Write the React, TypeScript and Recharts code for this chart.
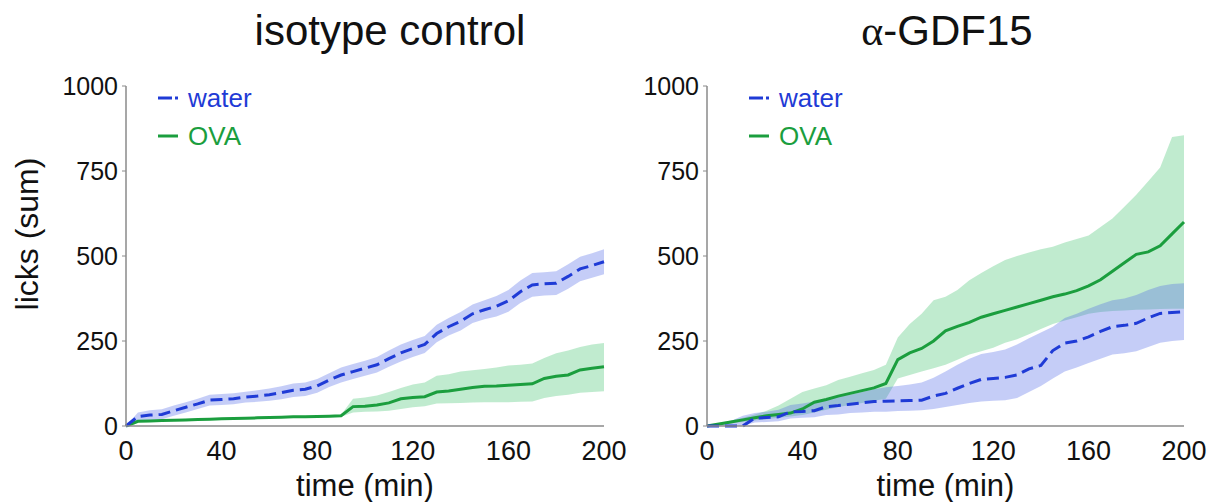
import { ComposedChart, Area, Line, XAxis, YAxis, Label } from 'recharts';

// time grid (min)
const minutes = [
  0, 5, 10, 15, 20, 25, 30, 35, 40, 45, 50, 55, 60, 65, 70, 75, 80, 85, 90, 95,
  100, 105, 110, 115, 120, 125, 130, 135, 140, 145, 150, 155, 160, 165, 170, 175,
  180, 185, 190, 195, 200,
];

// isotype control
const isoWaterMean = [
  0, 28, 32, 34, 45, 55, 65, 76, 78, 80, 85, 88, 92, 98, 105, 108, 118, 135, 150, 160,
  170, 180, 198, 215, 228, 240, 272, 292, 308, 330, 342, 352, 368, 395, 415, 418,
  420, 440, 462, 472, 483,
];
const isoWaterHi = [
  0, 40, 46, 49, 60, 70, 80, 92, 94, 96, 101, 105, 110, 117, 125, 128, 138, 155, 172, 182,
  192, 203, 222, 240, 253, 265, 298, 318, 335, 357, 370, 382, 400, 428, 450, 452,
  455, 476, 498, 508, 520,
];
const isoWaterLo = [
  0, 16, 18, 20, 30, 40, 50, 60, 62, 64, 69, 71, 74, 79, 85, 88, 98, 115, 128, 138,
  148, 157, 174, 190, 203, 215, 246, 266, 281, 303, 314, 322, 336, 362, 380, 384,
  385, 404, 426, 436, 446,
];
const isoOvaMean = [
  0, 14, 15, 16, 17, 18, 19, 20, 21, 22, 23, 24, 25, 26, 27, 27, 28, 29, 30, 57,
  58, 62, 68, 80, 84, 86, 100, 103, 108, 113, 117, 118, 120, 122, 124, 140,
  146, 150, 165, 170, 174,
];
const isoOvaHi = [
  0, 17, 18, 19, 20, 21, 22, 23, 24, 25, 26, 27, 28, 29, 30, 30, 31, 32, 33, 80,
  84, 90, 100, 112, 122, 128, 148, 152, 160, 164, 168, 172, 178, 180, 184, 200,
  214, 222, 232, 240, 244,
];
const isoOvaLo = [
  0, 11, 12, 13, 14, 15, 16, 17, 18, 19, 20, 21, 22, 23, 24, 24, 25, 26, 27, 40,
  42, 43, 45, 50, 55, 58, 66, 67, 68, 69, 70, 70, 70, 71, 72, 82,
  88, 92, 98, 100, 102,
];

// alpha-GDF15
const gdfWaterMean = [
  0, 0, 0, 0, 23, 25, 27, 42, 43, 45, 57, 60, 64, 68, 72, 73, 74, 75, 76, 88,
  96, 111, 125, 137, 140, 143, 150, 168, 178, 222, 244, 250, 262, 278, 292, 296,
  302, 318, 331, 334, 336,
];
const gdfWaterHi = [
  0, 5, 15, 30, 38, 42, 48, 62, 66, 72, 80, 86, 92, 100, 108, 114, 118, 122, 128, 142,
  160, 180, 198, 212, 218, 225, 240, 258, 275, 292, 318, 330, 345, 358, 370, 375,
  385, 400, 412, 418, 420,
];
const gdfWaterLo = [
  0, 0, 0, 0, 10, 12, 14, 22, 24, 26, 32, 34, 38, 40, 42, 42, 44, 45, 46, 50,
  56, 62, 68, 72, 74, 76, 82, 100, 118, 140, 160, 172, 185, 198, 210, 214,
  220, 232, 245, 250, 253,
];
const gdfOvaMean = [
  0, 6, 12, 18, 24, 30, 34, 38, 50, 70, 78, 88, 96, 104, 112, 125, 195, 215, 228, 250,
  280, 293, 305, 320, 330, 340, 350, 360, 370, 380, 388, 398, 412, 430, 455, 480,
  505, 512, 530, 565, 600,
];
const gdfOvaHi = [
  0, 8, 16, 24, 34, 45, 60, 80, 100, 110, 120, 135, 145, 155, 165, 180, 260, 300, 330, 370,
  380, 400, 429, 450, 470, 488, 500, 510, 520, 527, 540, 550, 560, 585, 610, 645,
  680, 720, 760, 850, 855,
];
const gdfOvaLo = [
  0, 4, 8, 12, 16, 20, 24, 28, 32, 40, 48, 56, 62, 68, 74, 80, 140, 150, 160, 170,
  180, 195, 210, 220, 230, 245, 255, 270, 285, 300, 310, 320, 330, 335, 338, 340,
  342, 343, 344, 345, 345,
];

const seriesNames = ['water', 'OVA'];
const xTicks = [0, 40, 80, 120, 160, 200];
const yTicks = [0, 250, 500, 750, 1000];

const BLUE = '#1f3bd6';
const GREEN = '#1b9e3e';
const AXIS = '#8a8a8a';
const FONT = '"Liberation Sans", Arial, sans-serif';

const buildRows = (
  wMean: number[], wLo: number[], wHi: number[],
  oMean: number[], oLo: number[], oHi: number[],
) =>
  minutes.map((t, i) => ({
    t,
    water: wMean[i],
    waterBand: [wLo[i], wHi[i]],
    ova: oMean[i],
    ovaBand: [oLo[i], oHi[i]],
  }));

const isoRows = buildRows(isoWaterMean, isoWaterLo, isoWaterHi, isoOvaMean, isoOvaLo, isoOvaHi);
const gdfRows = buildRows(gdfWaterMean, gdfWaterLo, gdfWaterHi, gdfOvaMean, gdfOvaLo, gdfOvaHi);

const LegendBox = ({ left }: { left: number }) => (
  <div style={{ position: 'absolute', left, top: 79, fontFamily: FONT, fontSize: 26 }}>
    <div style={{ display: 'flex', alignItems: 'center', height: 38, color: BLUE }}>
      <svg width={22} height={10} style={{ marginRight: 8 }}>
        <line x1={0} y1={5} x2={14} y2={5} stroke={BLUE} strokeWidth={3} />
        <line x1={17} y1={5} x2={20} y2={5} stroke={BLUE} strokeWidth={3} />
      </svg>
      {seriesNames[0]}
    </div>
    <div style={{ display: 'flex', alignItems: 'center', height: 38, color: GREEN }}>
      <svg width={22} height={10} style={{ marginRight: 8 }}>
        <line x1={0} y1={5} x2={20} y2={5} stroke={GREEN} strokeWidth={3} />
      </svg>
      {seriesNames[1]}
    </div>
  </div>
);

const yLabel = () => (
  <text
    transform="translate(38,234) rotate(-90)"
    textAnchor="middle"
    fontSize={32}
    fontFamily={FONT}
    fill="#111"
  >
    licks (sum)
  </text>
);

interface PanelProps {
  title: React.ReactNode;
  rows: ReturnType<typeof buildRows>;
  left: number;
  width: number;
  marginLeft: number;
  marginRight: number;
  axisWidth: number;
  showYLabel: boolean;
  titleCenter: number;
  legendLeft: number;
}

const Panel = ({
  title, rows, left, width, marginLeft, marginRight, axisWidth, showYLabel, titleCenter, legendLeft,
}: PanelProps) => (
  <div style={{ position: 'absolute', left, top: 0, width, height: 502 }}>
    <div
      style={{
        position: 'absolute',
        left: titleCenter - 200,
        top: 10,
        width: 400,
        textAlign: 'center',
        fontFamily: FONT,
        fontSize: 42,
        lineHeight: '42px',
        color: '#111',
      }}
    >
      {title}
    </div>
    <ComposedChart
      width={width}
      height={502}
      data={rows}
      margin={{ top: 86, right: marginRight, bottom: 0, left: marginLeft }}
    >
      <XAxis
        dataKey="t"
        type="number"
        domain={[0, 200]}
        ticks={xTicks}
        height={76}
        tickLine={false}
        tickSize={0}
        tickMargin={15}
        axisLine={{ stroke: AXIS, strokeWidth: 1.5 }}
        tick={{ fontSize: 27, fill: '#111', fontFamily: FONT }}
      >
        <Label
          value="time (min)"
          position="insideBottom"
          offset={6}
          style={{ fontSize: 31, fill: '#111', fontFamily: FONT }}
        />
      </XAxis>
      <YAxis
        type="number"
        domain={[0, 1000]}
        ticks={yTicks}
        width={axisWidth}
        tickSize={4}
        tickMargin={4}
        tickLine={{ stroke: AXIS }}
        axisLine={{ stroke: AXIS, strokeWidth: 1.5 }}
        tick={{ fontSize: 25, fill: '#111', fontFamily: FONT }}
      >
        {showYLabel && <Label content={yLabel} />}
      </YAxis>
      <Area
        dataKey="ovaBand"
        type="linear"
        stroke="none"
        fill="#3cc06a"
        fillOpacity={0.32}
        isAnimationActive={false}
      />
      <Area
        dataKey="waterBand"
        type="linear"
        stroke="none"
        fill="#4a62e6"
        fillOpacity={0.32}
        isAnimationActive={false}
      />
      <Line
        dataKey="ova"
        type="linear"
        stroke={GREEN}
        strokeWidth={3}
        dot={false}
        isAnimationActive={false}
      />
      <Line
        dataKey="water"
        type="linear"
        stroke={BLUE}
        strokeWidth={3}
        strokeDasharray="12 6"
        dot={false}
        isAnimationActive={false}
      />
    </ComposedChart>
    <LegendBox left={legendLeft} />
  </div>
);

export default function App() {
  return (
    <div style={{ position: 'absolute', left: 0, top: 0, width: 1209, height: 502, background: '#fff' }}>
      <Panel
        title="isotype control"
        rows={isoRows}
        left={0}
        width={640}
        marginLeft={56}
        marginRight={36}
        axisWidth={70}
        showYLabel
        titleCenter={390}
        legendLeft={158}
      />
      <Panel
        title={
          <>
            <span style={{ fontFamily: '"Liberation Serif", serif' }}>α</span>-GDF15
          </>
        }
        rows={gdfRows}
        left={640}
        width={569}
        marginLeft={17}
        marginRight={25}
        axisWidth={50}
        showYLabel={false}
        titleCenter={307}
        legendLeft={109}
      />
    </div>
  );
}
